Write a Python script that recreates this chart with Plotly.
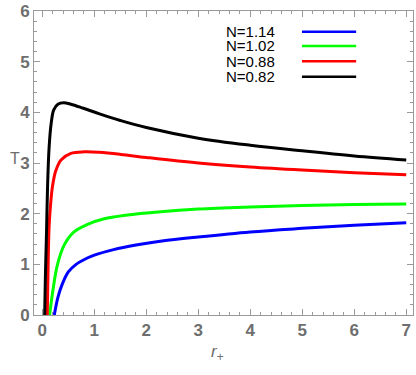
import plotly.graph_objs as go

# values
r_blue = [0.23, 0.30, 0.38, 0.50, 0.65, 0.80, 1.0, 1.37, 1.8, 2.3, 3.0, 4.0, 5.0, 6.0, 7.0]
T_blue = [0.0, 0.35, 0.60, 0.85, 1.00, 1.09, 1.18, 1.29, 1.38, 1.46, 1.54, 1.64, 1.71, 1.77, 1.82]

r_green = [0.14, 0.20, 0.29, 0.42, 0.61, 0.87, 1.19, 1.6, 2.28, 3.0, 4.0, 5.0, 6.0, 7.0]
T_green = [0.0, 0.46, 0.99, 1.38, 1.64, 1.79, 1.90, 1.97, 2.04, 2.09, 2.13, 2.16, 2.18, 2.19]

r_red = [0.095, 0.11, 0.13, 0.16, 0.20, 0.26, 0.36, 0.55, 0.81, 1.1, 1.51, 2.0, 3.0, 4.0, 5.0, 6.0, 7.0]
T_red = [0.0, 0.9, 1.74, 2.2, 2.57, 2.85, 3.06, 3.19, 3.22, 3.21, 3.17, 3.11, 3.00, 2.92, 2.86, 2.81, 2.77]

r_black = [0.045, 0.06, 0.08, 0.10, 0.13, 0.17, 0.22, 0.30, 0.41, 0.55, 0.79, 1.1, 1.5, 2.0, 3.0, 4.0, 5.0, 6.0, 7.0]
T_black = [0.0, 0.8, 1.6, 2.5, 3.3, 3.78, 4.05, 4.16, 4.19, 4.16, 4.08, 3.97, 3.84, 3.70, 3.49, 3.35, 3.24, 3.14, 3.06]

labels = ["N=1.14", "N=1.02", "N=0.88", "N=0.82"]
colors = ["#0000ff", "#00ff00", "#ff0000", "#000000"]
xs = [r_blue, r_green, r_red, r_black]
ys = [T_blue, T_green, T_red, T_black]

traces = []
for x, y, c, name in zip(xs, ys, colors, labels):
    traces.append(
        go.Scatter(
            x=x, y=y, name=name, mode="lines",
            line=dict(color=c, width=3, shape="spline", smoothing=1.0),
            showlegend=False, hoverinfo="skip",
        )
    )

gray = "#6e6e6e"
axis_common = dict(
    showgrid=False,
    zeroline=False,
    showline=True,
    linecolor="#9a9a9a",
    linewidth=1,
    mirror="allticks",
    ticks="inside",
    ticklen=6,
    tickwidth=1,
    tickcolor="#9a9a9a",
    automargin=False,
    tickfont=dict(family="Liberation Sans, Arial", size=17, color=gray, weight="bold"),
    minor=dict(ticks="inside", ticklen=3, tickcolor="#9a9a9a", dtick=0.2),
)

layout = go.Layout(
    width=416,
    height=375,
    margin=dict(l=34, r=3, t=11, b=60),
    paper_bgcolor="white",
    plot_bgcolor="white",
    xaxis=dict(range=[-0.16, 7.13], dtick=1, tick0=0, **axis_common),
    yaxis=dict(range=[0, 6], dtick=1, tick0=0, **axis_common),
)

fig = go.Figure(data=traces, layout=layout)

# axis labels
fig.add_annotation(
    text="T", xref="paper", yref="paper", x=-0.069, y=0.515,
    showarrow=False, font=dict(family="Liberation Sans, Arial", size=16, color=gray),
)
fig.add_annotation(
    text="<i>r</i><sub>+</sub>", xref="paper", yref="paper", x=0.485, y=-0.125,
    yanchor="middle", showarrow=False,
    font=dict(family="Liberation Sans, Arial", size=17, color=gray),
)

# legend: text on the left, line sample on the right
rows = [0.932, 0.885, 0.835, 0.784]
for name, c, yy in zip(labels, colors, rows):
    fig.add_annotation(
        text=name, xref="paper", yref="paper", x=0.50, y=yy,
        xanchor="left", yanchor="middle", showarrow=False,
        font=dict(family="Liberation Sans, Arial", size=15, color="black"),
    )
    fig.add_shape(
        type="line", xref="paper", yref="paper",
        x0=0.707, x1=0.850, y0=yy, y1=yy,
        line=dict(color=c, width=2.5),
    )

# drop the default 8px page margin so the figure sits at the window corner
fig.write_html(
    "out.html",
    config={"displayModeBar": False},
    post_script="document.body.style.margin='0';",
)
